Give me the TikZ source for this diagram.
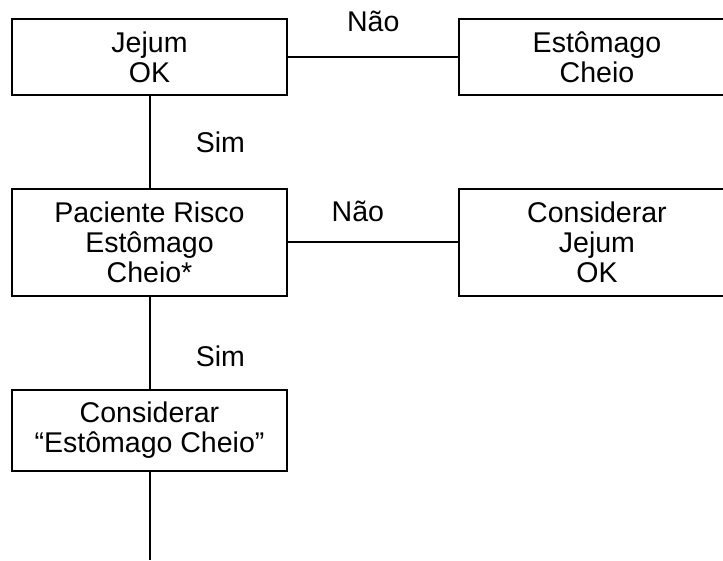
\documentclass[tikz,border=0pt]{standalone}
\usepackage{fontspec}
\setmainfont{Liberation Sans}
\tikzset{
    caixa/.style={draw, line width=1.5pt, minimum width=206.25pt, minimum height=57pt,
        align=center, font=\fontsize{21.4pt}{22.5pt}\selectfont},
    rotulo/.style={inner sep=0pt, font=\fontsize{21.4pt}{22.5pt}\selectfont}
}
\begin{document}
\begin{tikzpicture}[line width=1.5pt, sibling distance=0pt]
    \path[use as bounding box, clip] (-112.125pt,42.75pt) rectangle (430.125pt,-377.25pt);
    \node[caixa] (jejum) {Jejum\\OK}
        child[level distance=139.1pt] {node[caixa, minimum height=80.25pt] (risco) {Paciente Risco\\Estômago\\Cheio*}
            child[level distance=141pt] {node[caixa, minimum height=60.75pt] (considerar) {Considerar\\“Estômago Cheio”}
                child[level distance=97.1pt] {coordinate (fim)}
                edge from parent node[rotulo, pos=0.65, right=34pt] {Sim}}
            child[grow=right, level distance=335.6pt] {node[caixa, minimum height=80.25pt] (jejumok) {Considerar\\Jejum\\OK}
                edge from parent node[rotulo, pos=0.41, above=15pt] {Não}}
            edge from parent node[rotulo, right=34pt] {Sim}}
        child[grow=right, level distance=335.6pt] {node[caixa] (cheio) {Estômago\\Cheio}
            edge from parent node[rotulo, above=18pt] {Não}};
\end{tikzpicture}
\end{document}
